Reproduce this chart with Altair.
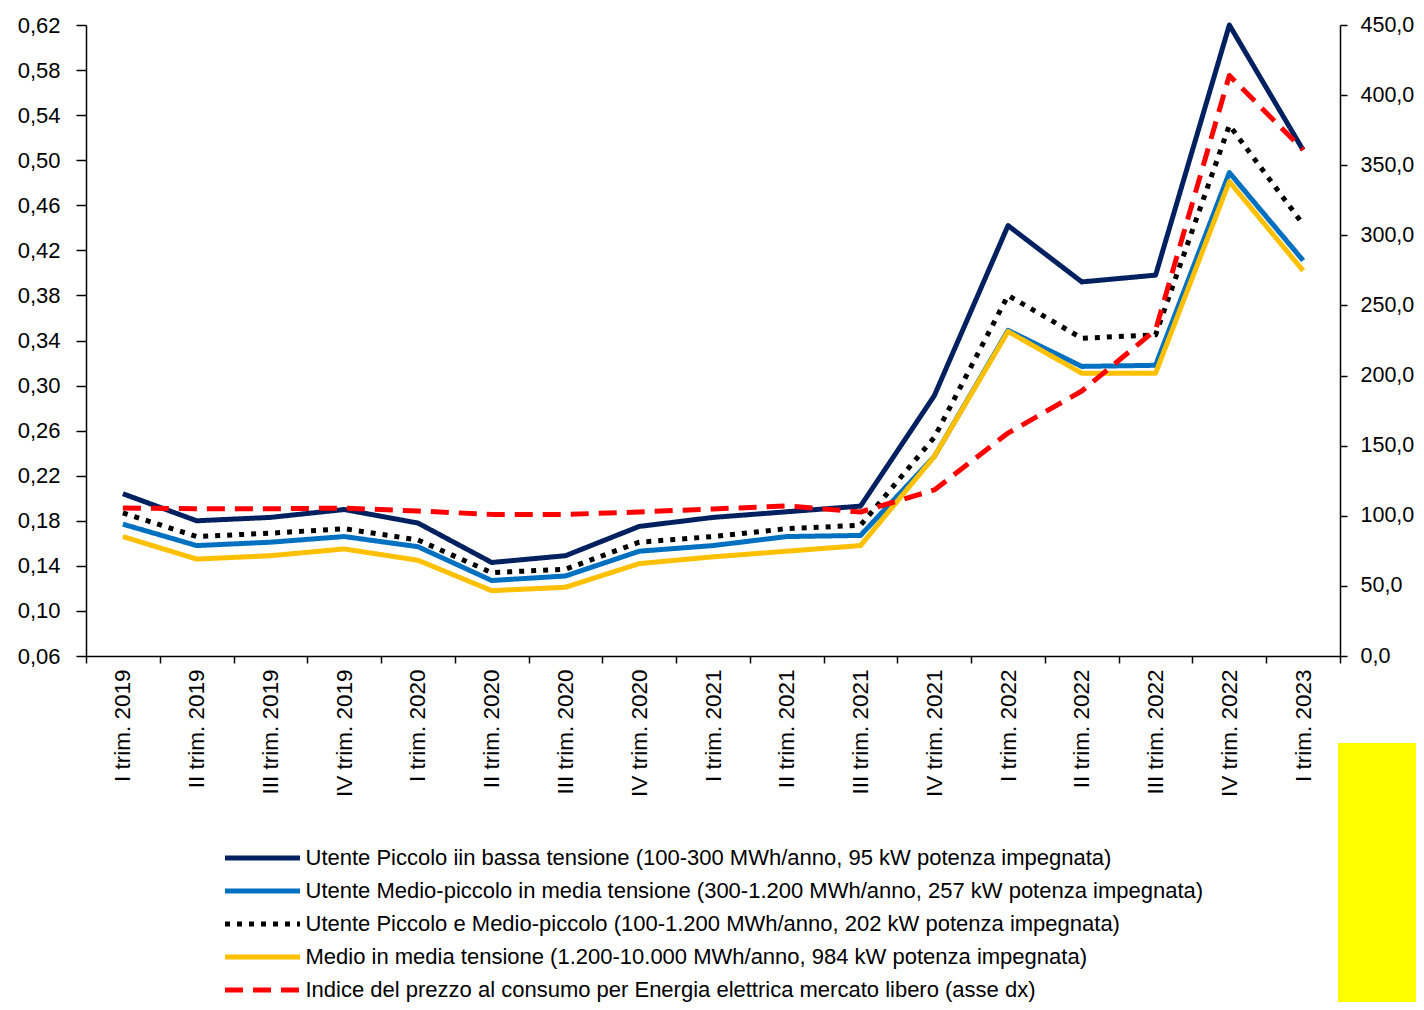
import altair as alt
import pandas as pd

quarters = [
    "I trim. 2019", "II trim. 2019", "III trim. 2019", "IV trim. 2019",
    "I trim. 2020", "II trim. 2020", "III trim. 2020", "IV trim. 2020",
    "I trim. 2021", "II trim. 2021", "III trim. 2021", "IV trim. 2021",
    "I trim. 2022", "II trim. 2022", "III trim. 2022", "IV trim. 2022",
    "I trim. 2023",
]

piccolo_bt = [0.204, 0.180, 0.183, 0.190, 0.178, 0.143, 0.149, 0.175, 0.183,
              0.188, 0.193, 0.291, 0.442, 0.392, 0.398, 0.620, 0.509]
medio_piccolo_mt = [0.177, 0.158, 0.161, 0.166, 0.157, 0.127, 0.131, 0.153, 0.158,
                    0.166, 0.167, 0.237, 0.349, 0.317, 0.318, 0.489, 0.411]
piccolo_medio = [0.187, 0.166, 0.169, 0.173, 0.163, 0.134, 0.137, 0.161, 0.166,
                 0.173, 0.176, 0.254, 0.380, 0.342, 0.345, 0.531, 0.443]
medio_mt = [0.166, 0.146, 0.149, 0.155, 0.145, 0.118, 0.121, 0.142, 0.148,
            0.153, 0.158, 0.237, 0.348, 0.311, 0.311, 0.481, 0.402]
indice_prezzo = [105.5, 105.0, 105.0, 105.5, 103.4, 101.0, 101.0, 102.7, 104.9,
                 107.0, 102.7, 118.4, 159.0, 189.0, 232.5, 414.0, 361.0]

names = [
    "Utente Piccolo iin bassa tensione (100-300 MWh/anno, 95 kW potenza impegnata)",
    "Utente Medio-piccolo in media tensione (300-1.200 MWh/anno, 257 kW potenza impegnata)",
    "Utente Piccolo e Medio-piccolo (100-1.200 MWh/anno, 202 kW potenza impegnata)",
    "Medio in media tensione (1.200-10.000 MWh/anno, 984 kW potenza impegnata)",
    "Indice del prezzo al consumo per Energia elettrica mercato libero (asse dx)",
]
series_values = [piccolo_bt, medio_piccolo_mt, piccolo_medio, medio_mt, indice_prezzo]
colors = ["#002060", "#0070C0", "#000000", "#FFC000", "#FF0000"]
dashes = [[1, 0], [1, 0], [5, 7], [1, 0], [18, 10]]

left_ticks = [0.06, 0.10, 0.14, 0.18, 0.22, 0.26, 0.30, 0.34, 0.38, 0.42, 0.46, 0.50, 0.54, 0.58, 0.62]
right_ticks = [0, 50, 100, 150, 200, 250, 300, 350, 400, 450]

rows = []
for name, vals in zip(names, series_values):
    for q, v in zip(quarters, vals):
        rows.append({"quarter": q, "value": v, "series": name})
df = pd.DataFrame(rows)

FONT = "Liberation Sans"

x_enc = alt.X(
    "quarter:N",
    sort=quarters,
    scale=alt.Scale(type="band", domain=quarters, paddingInner=0, paddingOuter=0),
    axis=alt.Axis(title=None, labelAngle=-90, tickBand="extent", tickSize=7,
                  labelPadding=6, labelFontSize=22.5, labelFont=FONT, labelColor="#000000",
                  domainColor="#000000", domainWidth=1.5, tickColor="#000000",
                  tickWidth=1.5, grid=False),
)
color_enc = alt.Color("series:N", scale=alt.Scale(domain=names, range=colors),
                      legend=alt.Legend(title=None))
dash_enc = alt.StrokeDash("series:N", scale=alt.Scale(domain=names, range=dashes),
                          legend=alt.Legend(title=None))

left_axis = alt.Axis(title=None, values=left_ticks, orient="left",
                     labelExpr="replace(format(datum.value, '.2f'), '.', ',')",
                     tickSize=10, labelPadding=16, labelFontSize=22, labelFont=FONT,
                     labelColor="#000000", domainColor="#000000", domainWidth=1.5,
                     tickColor="#000000", tickWidth=1.5, grid=False)
right_axis = alt.Axis(title=None, values=right_ticks, orient="right",
                      labelExpr="replace(format(datum.value, '.1f'), '.', ',')",
                      tickSize=7, labelPadding=13, labelFontSize=21.5, labelFont=FONT,
                      labelColor="#000000", domainColor="#000000", domainWidth=1.5,
                      tickColor="#000000", tickWidth=1.5, grid=False)

left_scale = alt.Scale(domain=[0.06, 0.62], nice=False, zero=False)
right_scale = alt.Scale(domain=[0, 450], nice=False, zero=True)

base = alt.Chart(df)
left_layers = []
for name in names[:4]:
    left_layers.append(
        base.transform_filter(alt.datum.series == name)
        .mark_line(strokeWidth=5, strokeJoin="round")
        .encode(x=x_enc, y=alt.Y("value:Q", scale=left_scale, axis=left_axis),
                color=color_enc, strokeDash=dash_enc)
    )
left = alt.layer(*left_layers)

right = (
    base.transform_filter(alt.datum.series == names[4])
    .mark_line(strokeWidth=5, strokeJoin="round")
    .encode(x=x_enc, y=alt.Y("value:Q", scale=right_scale, axis=right_axis),
            color=color_enc, strokeDash=dash_enc)
)

patch = (
    alt.Chart(pd.DataFrame({"k": [0]}))
    .mark_rect(color="#FFFF00")
    .encode(x=alt.value(1252), x2=alt.value(1338), y=alt.value(718), y2=alt.value(985))
)

chart = (
    alt.layer(left, right, patch)
    .resolve_scale(y="independent")
    .properties(
        width=1254,
        height=631,
        autosize=alt.AutoSizeParams(type="none"),
        padding={"left": 78, "top": 17, "right": 76, "bottom": 346},
        background="#ffffff",
    )
    .configure_view(stroke=None)
    .configure_legend(
        orient="none",
        legendX=136.5,
        legendY=818,
        symbolType="stroke",
        symbolSize=5625,
        symbolStrokeWidth=5,
        labelFontSize=22,
        labelFont=FONT,
        labelColor="#000000",
        labelLimit=0,
        labelOffset=3,
        rowPadding=3,
        clipHeight=30,
        padding=0,
    )
)

chart.save("out.html", embed_options={"renderer": "svg", "actions": False})
